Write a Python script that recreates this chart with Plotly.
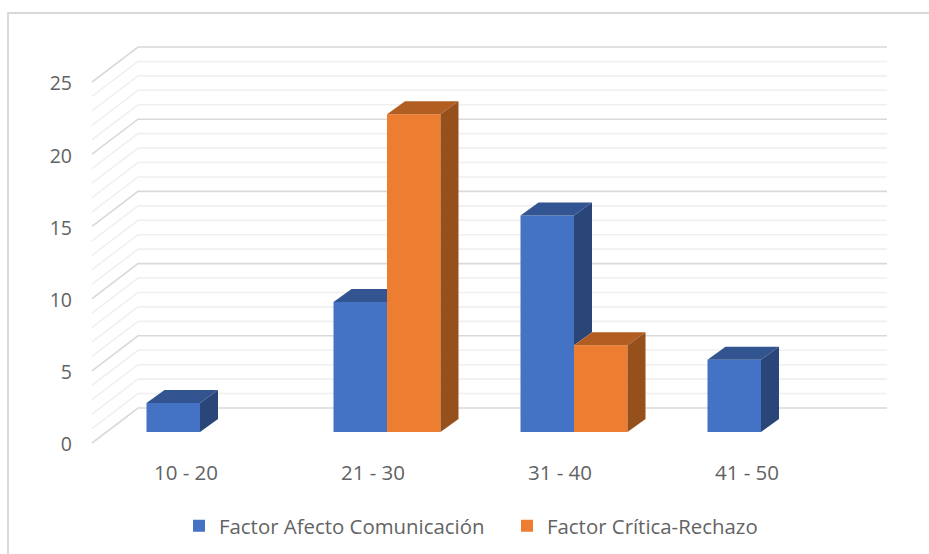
import plotly.graph_objects as go

categories = ["10 - 20", "21 - 30", "31 - 40", "41 - 50"]
afecto = [2, 9, 15, 5]
critica = [0, 22, 6, 0]
y_ticks = [0, 5, 10, 15, 20, 25]
minor_steps = list(range(26))

WIDTH, HEIGHT = 929, 554
# pixel geometry of the fake 3D box
ZERO_PX, UNIT_PX = 432, 14.44
X0_PX, GROUP_PX = 200, 187
LEFT, BOTTOM = 73, 458


def x_of(px):
    return (px - X0_PX) / GROUP_PX


def y_of(px):
    return (ZERO_PX - px) / UNIT_PX


BAR_W = 53.5 / GROUP_PX
BAR_DX, BAR_DY = 18 / GROUP_PX, 13 / UNIT_PX
WALL_FRONT, WALL_BACK = y_of(443), y_of(408)
WALL_X = [x_of(92), x_of(138), x_of(887)]
# tick labels sit just under the front end of each wall line
LABEL_FRONT = y_of(444.5)


def face(xs, ys, color):
    return go.Scatter(
        x=xs + xs[:1], y=ys + ys[:1], mode="lines", fill="toself", fillcolor=color,
        line={"width": 0, "color": color}, hoverinfo="skip", showlegend=False
    )


def bar_faces(x0, value, right_value, top_color, side_color):
    """Top and side of one bar, cut where the bar to its right hides them."""
    x1 = x0 + BAR_W
    if value <= 0:
        return []
    if right_value >= value:
        return [face(
            [x0, x1, x1, x0 + BAR_DX],
            [value, value, value + BAR_DY, value + BAR_DY],
            top_color
        )]
    top = face(
        [x0, x1, x1 + BAR_DX, x0 + BAR_DX],
        [value, value, value + BAR_DY, value + BAR_DY],
        top_color
    )
    side = face(
        [x1, x1 + BAR_DX, x1 + BAR_DX, x1],
        [value, value + BAR_DY, right_value + BAR_DY, right_value],
        side_color
    )
    return [top, side]


# wall lines are shapes so that they stay under the bars
shapes = []
for v in sorted(minor_steps, key=lambda s: s in y_ticks):
    major = v in y_ticks
    shapes.append({
        "type": "path", "xref": "x", "yref": "y", "layer": "below",
        "path": "M {},{} L {},{} L {},{}".format(
            WALL_X[0], v + WALL_FRONT, WALL_X[1], v + WALL_BACK, WALL_X[2], v + WALL_BACK
        ),
        "line": {"color": "#d9d9d9" if major else "#f0f0f0", "width": 1.6},
    })

# chart frame, open at the right and bottom edges of the crop
shapes.append({
    "type": "path", "xref": "paper", "yref": "paper",
    "path": "M {l},{b} L {l},{t} L {r},{t}".format(
        l=(8 - LEFT) / (WIDTH - LEFT),
        b=(BOTTOM - HEIGHT) / BOTTOM,
        t=(BOTTOM - 13) / BOTTOM,
        r=1,
    ),
    "line": {"color": "#d9d9d9", "width": 2},
})

traces = []
for i in range(len(categories)):
    traces += bar_faces(i - BAR_W, afecto[i], critica[i], "#325490", "#2a4678")
    traces += bar_faces(i, critica[i], 0, "#b25e22", "#95501c")

traces.append(go.Bar(
    x=list(range(len(categories))), y=afecto, name="Factor Afecto Comunicación",
    marker={"color": "#4472c4", "line": {"width": 0}}
))
traces.append(go.Bar(
    x=list(range(len(categories))), y=critica, name="Factor Crítica-Rechazo",
    marker={"color": "#ed7d31", "line": {"width": 0}}
))

layout = go.Layout(
    width=WIDTH, height=HEIGHT,
    margin={"l": LEFT, "r": 0, "t": 0, "b": HEIGHT - BOTTOM, "autoexpand": False},
    paper_bgcolor="white", plot_bgcolor="white",
    barmode="group", bargap=1 - 2 * BAR_W, bargroupgap=0,
    font={"family": "Open Sans", "size": 20, "color": "#636363"},
    xaxis={
        "range": [x_of(LEFT), x_of(WIDTH)],
        "tickvals": [i - 0.075 for i in range(len(categories))],
        "ticktext": categories,
        "tickfont": {"size": 20.5},
        "showgrid": False, "zeroline": False, "showline": False, "ticks": "",
    },
    yaxis={
        "range": [y_of(BOTTOM), y_of(0)],
        "tickvals": [t + LABEL_FRONT for t in y_ticks],
        "ticktext": [str(t) for t in y_ticks],
        "tickfont": {"size": 19.5},
        "showgrid": False, "zeroline": False, "showline": False, "ticks": "",
    },
    legend={
        "orientation": "h", "x": 179 / WIDTH, "y": 1 - 526 / HEIGHT,
        "xref": "container", "yref": "container",
        "xanchor": "left", "yanchor": "middle", "font": {"size": 20.4},
        "entrywidth": 283, "entrywidthmode": "pixels",
    },
    shapes=shapes,
)

fig = go.Figure(data=traces, layout=layout)
fig.write_html(
    "out.html",
    config={"displayModeBar": False},
    post_script="document.body.style.margin = '0';"
)
